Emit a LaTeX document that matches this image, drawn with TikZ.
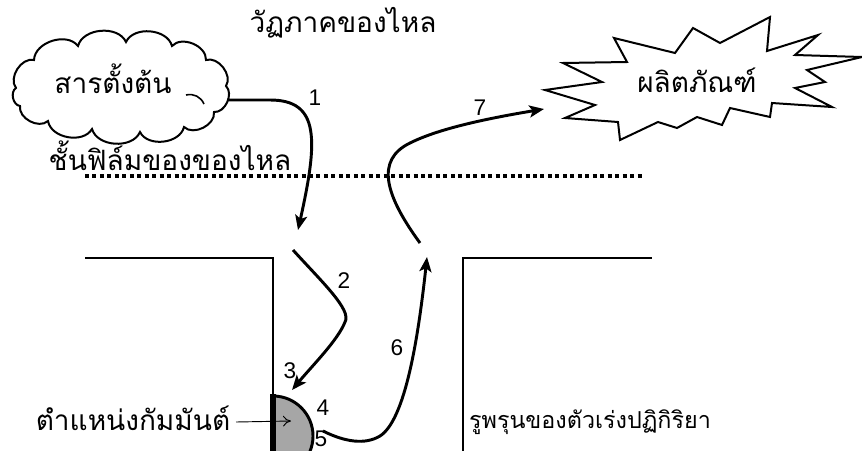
\documentclass[tikz,border=0pt]{standalone}
\usepackage{fontspec}
\setmainfont{Liberation Sans}
\newfontfamily\thaifont[Script=Thai]{Loma}
\usetikzlibrary{arrows.meta}
\begin{document}
\begin{tikzpicture}[x=0.75pt,y=-0.75pt,
  flow/.style={line width=2.2pt,-{Stealth[length=11pt,width=9pt,inset=2.5pt]}},
  wall/.style={line width=2.2pt},
  thai/.style={font=\thaifont\fontsize{21}{25}\selectfont, inner sep=0pt, anchor=base},
  num/.style={font=\fontsize{17}{20}\selectfont, inner sep=0pt, anchor=base},
  outline/.style={draw=black, line width=1.5pt, fill=white},
  puff/.style={bend left=70},
]
\useasboundingbox (0,0) rectangle (862,450);

% fluid phase title
\node[thai] (title) at (343,32) {วัฏภาคของไหล};

% reactant cloud
\draw[outline] (16,88) to[puff] (34,60) to[puff] (78,46) to[puff] (126,42)
  to[puff] (172,46) to[puff] (206,60) to[puff] (226,86) to[puff] (214,112)
  to[puff] (184,127) to[puff] (140,132) to[puff] (92,129) to[puff] (48,121)
  to[puff] (20,106) to[puff] (16,88) -- cycle;
\draw[line width=1.2pt] (186,95) to[bend left=40] (204,104);
\node[thai] (src) at (113,93) {สารตั้งต้น};

% product starburst
\draw[outline] (545,90) -- (602,82) -- (563,63) -- (627,62) -- (614,38) -- (675,53)
  -- (693,28) -- (720,43) -- (770,17) -- (767,51) -- (818,35) -- (795,55)
  -- (862,57) -- (807,70) -- (825,82) -- (795,88) -- (832,107) -- (772,103)
  -- (770,117) -- (730,108) -- (722,125) -- (697,117) -- (677,128) -- (658,122)
  -- (620,140) -- (618,122) -- (565,118) -- (595,105) -- cycle;
\node[thai] (prod) at (697,92) {ผลิตภัณฑ์};

% film layer
\node[thai] (film) at (170,170) {ชั้นฟิล์มของของไหล};
\coordinate (dl) at (85,176);
\coordinate (dr) at (642,176);
\draw[line width=3pt, dash pattern=on 3pt off 2.6pt] (dl) -- (dr);

% pore walls
\draw[wall] (85,258) -- (273,258) -- (273,455);
\draw[wall] (463,455) -- (463,258) -- (652,258);

% active site
\filldraw[fill=black!35, draw=black, line width=2.2pt] (273,476) arc[start angle=90, end angle=-90, radius=40] -- cycle;
\draw[line width=4.5pt] (273,394) -- (273,455);
\coordinate (sitept) at (291,421);
\node[thai] (site) at (133,430) {ตำแหน่งกัมมันต์};
\draw[line width=0.7pt, -{To[length=6pt,width=8pt]}] (236,422) -- (sitept);

% pore label
\node[thai, font=\thaifont\fontsize{17.5}{21}\selectfont] (pore) at (590,428) {รูพรุนของตัวเร่งปฏิกิริยา};

% step 1
\coordinate (a1s) at (227,100);
\coordinate (a1e) at (298,230);
\draw[flow] (a1s) -- (270,100) .. controls (320,100) and (318,140) .. (a1e);
\node[num] (n1) at (315,105) {1};

% step 2
\coordinate (a2s) at (293,250);
\coordinate (a2e) at (292,390);
\draw[flow] (a2s) .. controls (322,282) and (352,310) .. (345,322) .. controls (338,340) and (312,366) .. (a2e);
\node[num] (n2) at (344,288) {2};
\node[num] (n3) at (290,378) {3};
\node[num] (n4) at (323,415) {4};
\node[num] (n5) at (321,446) {5};

% step 6
\coordinate (a6s) at (323,431);
\coordinate (a6e) at (427,257);
\draw[flow] (a6s) .. controls (345,442) and (365,445) .. (380,436) .. controls (405,420) and (418,340) .. (a6e);
\node[num] (n6) at (397,355) {6};

% step 7
\coordinate (a7s) at (420,243);
\coordinate (a7e) at (544,109);
\draw[flow] (a7s) .. controls (385,195) and (375,160) .. (410,143) .. controls (440,128) and (490,118) .. (a7e);
\node[num] (n7) at (480,115) {7};
\end{tikzpicture}
\end{document}
